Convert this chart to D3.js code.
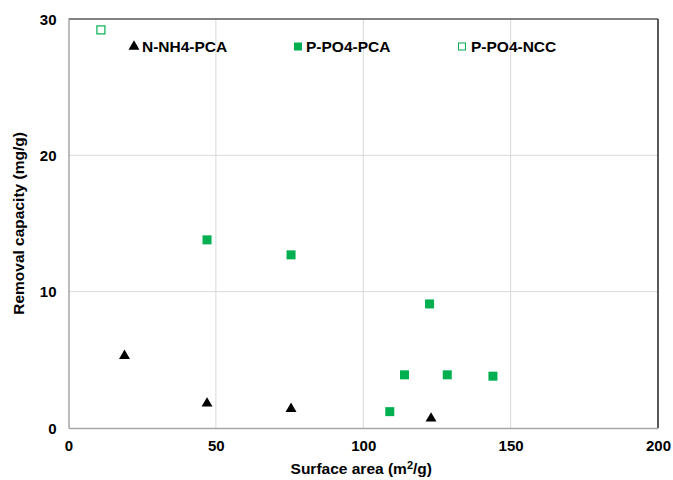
<!DOCTYPE html>
<meta charset="utf-8">
<title>Removal capacity vs surface area</title>
<style>
  body { margin: 0; background: #fff; }
  text { font-family: Arial, "Liberation Sans", sans-serif; font-weight: bold; }
  .tick text { font-size: 15px; fill: #000; }
  .grid line { stroke: #d9d9d9; stroke-width: 1; }
</style>
<body>
<div id="chart"></div>
<script src="https://d3js.org/d3.v7.min.js"></script>
<script>
// data
var nh4Area = [19, 47, 75.5, 123];
var nh4Cap  = [5.3, 1.8, 1.4, 0.7];

var po4Area = [47, 75.5, 122.5, 114, 128.5, 144, 109];
var po4Cap  = [13.8, 12.7, 9.1, 3.9, 3.9, 3.8, 1.2];

var nccArea = [11];
var nccCap  = [29.2];

var xTicks = [0, 50, 100, 150, 200];
var yTicks = [0, 10, 20, 30];

var legendNames = ["N-NH4-PCA", "P-PO4-PCA", "P-PO4-NCC"];

var W = 673, H = 480;
var margin = {top: 19, right: 15, bottom: 52, left: 68.5};
var width = W - margin.left - margin.right,
    height = H - margin.top - margin.bottom;

var green = "#00b050";

var svg = d3.select("#chart").append("svg")
    .attr("width", W).attr("height", H);
var g = svg.append("g")
    .attr("transform", "translate(" + margin.left + "," + margin.top + ")");

var x = d3.scaleLinear().domain([0, 200]).range([0, width]);
var y = d3.scaleLinear().domain([0, 30]).range([height, 0]);

// gridlines
g.append("g").attr("class", "grid")
  .selectAll("line").data(xTicks.slice(1, -1)).enter().append("line")
    .attr("x1", function(d) { return x(d); }).attr("x2", function(d) { return x(d); })
    .attr("y1", 0).attr("y2", height);
g.append("g").attr("class", "grid")
  .selectAll("line").data(yTicks.slice(1, -1)).enter().append("line")
    .attr("x1", 0).attr("x2", width)
    .attr("y1", function(d) { return y(d); }).attr("y2", function(d) { return y(d); });

// frame: top and right darker
g.append("line").attr("x1", 0).attr("x2", width).attr("y1", 0).attr("y2", 0)
  .attr("stroke", "#595959").attr("stroke-width", 1.5);
g.append("line").attr("x1", width).attr("x2", width).attr("y1", 0).attr("y2", height)
  .attr("stroke", "#222").attr("stroke-width", 1.5);

// axes
var xAxis = g.append("g").attr("transform", "translate(0," + height + ")")
  .call(d3.axisBottom(x).tickValues(xTicks).tickSize(0).tickPadding(12));
var yAxis = g.append("g")
  .call(d3.axisLeft(y).tickValues(yTicks).tickSize(0).tickPadding(12));
[xAxis, yAxis].forEach(function(a) {
  a.select(".domain").attr("stroke", "#a6a6a6").attr("stroke-width", 1.5);
});
yAxis.selectAll(".tick text").attr("dy", "0.35em");

// axis titles
var xt = svg.append("text")
    .attr("x", margin.left + width / 2 - 2).attr("y", 474)
    .attr("text-anchor", "middle").style("font-size", "15.5px");
xt.append("tspan").text("Surface area (m");
xt.append("tspan").text("2").attr("dy", -5).style("font-size", "11px");
xt.append("tspan").text("/g)").attr("dy", 5);

svg.append("text")
    .attr("transform", "translate(24," + (margin.top + height / 2) + ") rotate(-90)")
    .attr("text-anchor", "middle").style("font-size", "15.5px")
    .text("Removal capacity (mg/g)");

// markers
var tri = d3.symbol().type(d3.symbolTriangle).size(52);

g.selectAll(".nh4").data(nh4Area).enter().append("path")
    .attr("class", "nh4")
    .attr("d", tri)
    .attr("transform", function(d, i) { return "translate(" + x(d) + "," + y(nh4Cap[i]) + ")"; })
    .attr("fill", "#000");

g.selectAll(".po4").data(po4Area).enter().append("rect")
    .attr("class", "po4")
    .attr("x", function(d) { return x(d) - 4.5; })
    .attr("y", function(d, i) { return y(po4Cap[i]) - 4.5; })
    .attr("width", 9).attr("height", 9)
    .attr("fill", green);

g.selectAll(".ncc").data(nccArea).enter().append("rect")
    .attr("class", "ncc")
    .attr("x", function(d) { return x(d) - 4; })
    .attr("y", function(d, i) { return y(nccCap[i]) - 4; })
    .attr("width", 8).attr("height", 8)
    .attr("fill", "#fff").attr("stroke", green).attr("stroke-width", 1.2);

// legend
var legendX = [134, 298, 462];
var legendY = 46.5;
var leg = svg.append("g");
legendNames.forEach(function(name, i) {
  var lx = legendX[i];
  if (i === 0) {
    leg.append("path").attr("d", tri)
      .attr("transform", "translate(" + lx + "," + legendY + ")").attr("fill", "#000");
  } else if (i === 1) {
    leg.append("rect").attr("x", lx - 4).attr("y", legendY - 4)
      .attr("width", 8).attr("height", 8).attr("fill", green);
  } else {
    leg.append("rect").attr("x", lx - 3.5).attr("y", legendY - 3.5)
      .attr("width", 7).attr("height", 7)
      .attr("fill", "#fff").attr("stroke", green).attr("stroke-width", 1);
  }
  leg.append("text")
    .attr("x", lx + (i === 2 ? 9 : 8)).attr("y", legendY + 5.5)
    .style("font-size", "15.5px")
    .text(name);
});
</script>
</body>
